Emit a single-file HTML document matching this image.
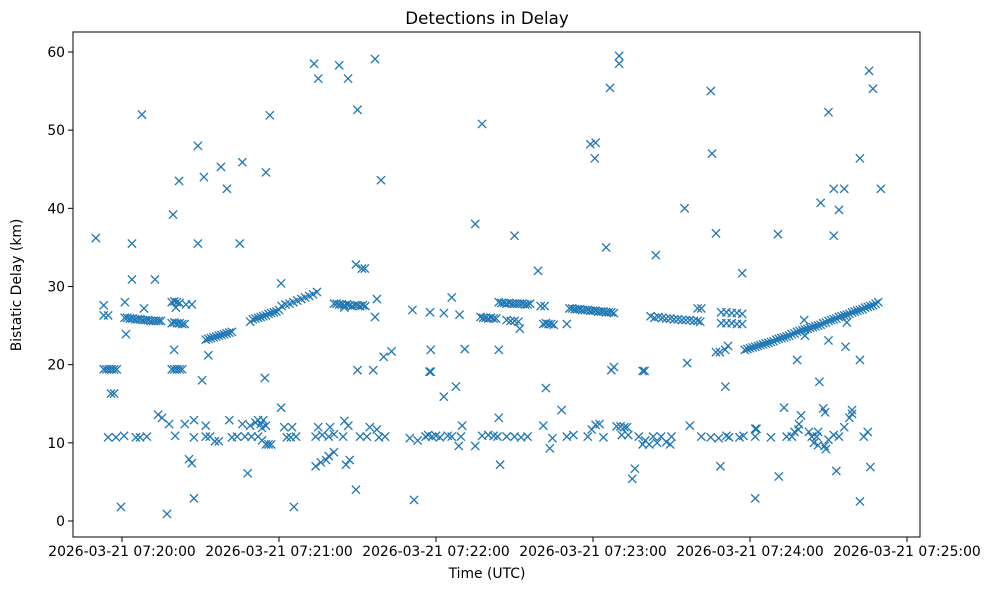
<!DOCTYPE html>
<html><head><meta charset="utf-8"><style>
body{margin:0;background:#fff;}
svg{display:block;font-family:"DejaVu Sans","Liberation Sans",sans-serif;}
</style></head><body>
<svg id="chart" width="988" height="590">
<rect x="0" y="0" width="988" height="590" fill="#fff"/>
<text x="487" y="24" text-anchor="middle" font-size="16.7">Detections in Delay</text>
<text x="487" y="578" text-anchor="middle" font-size="13.9">Time (UTC)</text>
<text transform="translate(21,285) rotate(-90)" text-anchor="middle" font-size="13.9">Bistatic Delay (km)</text>
<g id="marks"></g>
<g id="axes"></g>
</svg>
<script>
const xTickSeconds=[0,60,120,180,240,300];
const xTickLabels=["2026-03-21 07:20:00","2026-03-21 07:21:00","2026-03-21 07:22:00","2026-03-21 07:23:00","2026-03-21 07:24:00","2026-03-21 07:25:00"];
const yTicks=[0,10,20,30,40,50,60];
// seconds after 07:20:00 UTC, bistatic delay km
const detections=[
[-10,36.2],[-7,27.6],[-7,26.3],[-5.3,26.3],[-7,19.4],[-6,19.4],[-5,19.4],[-4,19.4],[-3,19.4],[-2,19.4],
[-4.2,16.3],[-3,16.3],[-5.3,10.7],[-2.3,10.7],[0.8,10.9],[-0.4,1.8],[1.1,28],[1.5,23.9],[3.8,35.5],[3.8,30.9],[7.6,52],
[1,26.0],[2,26.0],[3,25.9],[4,25.9],[5,25.8],[6,25.8],[7,25.8],[8,25.7],[9,25.7],[10,25.7],[11,25.6],[12,25.6],[13,25.6],[14,25.6],
[8.4,27.2],[5.3,10.7],[6.9,10.7],[9.5,10.8],[12.6,30.9],[14.9,25.6],[13.8,13.6],[15.3,13.2],[17.2,0.9],[18,12.4],[19.5,39.2],
[19,28],[20,28.1],[21,28],[22,27.9],[20.6,27.3],[19.9,21.9],[19,19.4],[20,19.4],[21,19.4],[22,19.4],[23,19.4],
[19,25.3],[20,25.4],[21,25.3],[22,25.3],[23,25.2],[24,25.2],
[21.8,43.5],[20.3,10.9],[24,12.4],[25.6,7.9],[26.7,7.4],[27.5,2.9],[24.5,27.7],[26.7,27.7],[27.5,12.9],[27.5,10.7],
[29,48],[29,35.5],[30.6,18],[31.3,44],[32,12.2],[32,10.8],[33.6,10.8],[33,21.2],
[32,23.2],[33,23.3],[34,23.4],[35,23.5],[36,23.6],[37,23.7],[38,23.8],[39,23.9],[40,24],[41,24.1],[42,24.2],
[35.5,10.2],[37,10.2],[37.8,45.3],[40.1,42.5],[41,12.9],[42,10.7],[44,10.8],[45,35.5],[46,45.9],[46,12.4],[48,6.1],[47,10.8],[49,25.5],[49,12.2],[49.5,10.8],
[50,25.8],[51,25.9],[52,26],[53,26.1],[54,26.2],[55,26.3],[56,26.5],[57,26.6],[58,26.7],[59,26.8],[60,27],
[51,12.6],[52,12.9],[53,12.4],[54,12.9],[55,12.2],[53.5,11.9],[54.6,18.3],[55,44.6],[52,10.8],[53.5,10.3],[55,9.8],[56,9.8],[56.5,51.9],[57,9.8],
[60.8,30.4],[60.8,14.5],[62,12],[65,12],[63,10.7],[64.5,10.7],[65.7,1.8],[66.5,10.8],
[61,27.5],[62.5,27.7],[64,27.8],[65.5,28],[67,28.2],[68.5,28.4],[70,28.6],[71.5,28.8],[73,29],[74.5,29.3],
[73.4,58.5],[75,56.6],[74,7],[76,7.5],[78,7.8],[79,8.3],[81,8.8],[74,10.8],[76.5,11],[79,10.8],[81,11.1],[75,12],[79.5,12],
[83,58.3],[86.4,56.6],
[81,27.8],[82,27.8],[83,27.7],[84,27.7],[85,27.6],[86,27.7],[87,27.6],[88,27.5],[89,27.6],[90,27.6],[91,27.5],[92,27.6],[93,27.5],[85,27.3],
[84.5,10.8],[85.6,7.2],[87,7.8],[85,12.8],[86.5,12.2],[90,52.6],[89.4,4],[89.4,32.8],[91.7,32.3],[92.8,32.3],[90,19.3],[91,10.8],[93.6,10.8],[94.7,12],
[96.7,59.1],[96.7,26.1],[97.4,28.4],[96,19.3],[97.4,11.7],[98.2,10.7],[99,43.6],[100,21],[103,21.7],[100.5,10.8],
[110,10.6],[111.6,2.7],[111,27],[113,10.3],[117.7,26.7],[117.5,19.1],[118,19.1],[118,21.9],[116,10.8],[117,11],[118.5,10.8],[120,10.9],[121.5,10.7],
[123,26.6],[123,15.9],[124.5,10.9],[126,10.8],[126,28.6],[127.6,17.2],[128.7,9.6],[129.5,10.8],[129,26.4],[130,12.2],[131,22],[135,9.6],[135,38],[137.6,50.8],
[137,26.1],[138,26],[139,26],[140,25.9],[141,26],[142,25.9],[143,25.9],
[137.6,10.9],[140,11],[142,10.9],[143.5,10.8],[144,13.2],[144,21.9],[144.5,7.2],
[144,28],[145,27.9],[146,27.9],[147,27.8],[148,27.9],[149,27.8],[150,27.8],[151,27.8],[152,27.8],[153,27.8],[154,27.7],[155,27.7],[156,27.8],
[147,25.7],[148.5,25.6],[150,25.6],[151.5,25.5],[150,36.5],[152,24.6],[147,10.8],[150,10.8],[152.5,10.7],[155,10.8],
[159,32],[160,27.5],[161.5,27.5],[161,25.2],[162,25.3],[163,25.2],[164,25.2],[165,25.1],[161,12.2],[162,17],[163.5,9.3],[164.5,10.6],[168,14.2],[170,10.8],[172.5,11],[170,25.2],
[171,27.2],[172,27.2],[173,27.1],[174,27.1],[175,27.1],[176,27],[177,27],[178,27],[179,26.9],[180,26.9],[181,26.9],[182,26.8],[183,26.8],[184,26.8],[185,26.7],[186,26.7],[187,26.7],[188,26.6],
[178,10.8],[179.5,11.7],[181,12.3],[182.5,12.4],[184,10.7],[179,48.2],[181,48.4],[180.7,46.4],[185,35],[186.5,55.4],[187,19.3],[188,19.7],[190,59.5],[190,58.5],
[189,12.1],[190.5,12.1],[192,12],[193,12],[191,11],[193.5,11],[195,5.4],[196,6.7],[199,19.2],[199.7,19.2],
[202,26.2],[203.5,26],[205,26.1],[206.5,26],[208,25.9],[209.5,25.9],[211,25.8],[212.5,25.8],[214,25.7],[215.5,25.7],[217,25.7],[218.5,25.6],[220,25.6],[221,25.5],
[197.5,10.8],[199,9.8],[200,10.3],[201.5,9.8],[203,10.8],[204.5,10],[206,10.8],[208,10.1],[209.5,9.8],[210,10.8],[204,34],[215,40],[217,12.2],[216,20.2],[220,27.2],[221.4,27.2],[221.4,10.8],
[225,55],[225.5,47],[227,36.8],[227,21.6],[228.5,21.6],[230.5,21.9],[231.6,22.4],
[229,26.7],[231,26.7],[233,26.6],[235,26.6],[237,26.5],[229,25.3],[231,25.3],[233,25.3],[235,25.2],[237,25.2],[230.6,17.2],[228.7,7],
[225,10.7],[228,10.6],[231,10.9],[232,10.7],[236,10.7],[237,31.7],
[238,21.9],[239,22.0],[240,22.1],[241,22.2],[242,22.3],[243,22.4],[244,22.5],[245,22.6],[246,22.7],[247,22.8],[248,22.9],[249,23.0],[250,23.2],[251,23.3],[252,23.4],[253,23.5],[254,23.6],[255,23.7],[256,23.9],[257,24.0],[258,24.2],[259,24.3],[260,24.4],[261,24.5],[262,24.6],[263,24.7],[264,24.8],[265,24.9],[266,25.0],[267,25.1],[268,25.3],[269,25.4],[270,25.6],[271,25.7],[272,25.8],[273,25.9],[274,26.1],[275,26.2],[276,26.3],[277,26.4],[278,26.5],[279,26.7],[280,26.8],[281,26.9],[282,27.0],[283,27.1],[284,27.3],[285,27.4],[286,27.5],[287,27.6],[288,27.8],[289,28.0],
[237.5,10.9],[242,11.8],[242.5,11.8],[242,10.8],[242,2.9],[248,10.7],[250.7,36.7],[251,5.7],[253,14.5],[254,10.8],[256,10.8],[257,11.4],[258,20.6],[258.7,12.4],[259.5,13.5],[258.5,11.7],[260.7,25.7],[261,23.7],[262.5,11.4],[263.6,10.8],[264.4,10],[265.5,10.8],[266,11.4],[266.5,17.8],[267,40.7],[268,14.4],[268.7,13.9],[268.5,9.6],[269,9.2],[270,52.3],[270,23.1],[272,42.5],[272,36.5],[273,6.4],[274,10.8],[274,39.8],[276,42.5],[276,12],[278,13.2],[277,25.4],[276.5,22.3],[279,14.2],[279,13.7],[282,20.6],[282,46.4],[282,2.5],[283.5,10.8],[285,11.4],[285.5,57.6],[287,55.3],[286,6.9],[290,42.5],[266,9.7],[270,10.4],[272,11]
];
const NS="http://www.w3.org/2000/svg";
const L=73,R=920,T=32,B=537;
function xs(t){return 122+t*(157/60);}
function ys(d){return 521-d*(469/60);}
const marks=document.getElementById('marks');
detections.forEach(function(p,i){
  const x=xs(p[0]),y=ys(p[1]),s=4.1;
  const el=document.createElementNS(NS,'path');
  el.setAttribute('d','M'+(x-s)+' '+(y-s)+'L'+(x+s)+' '+(y+s)+'M'+(x-s)+' '+(y+s)+'L'+(x+s)+' '+(y-s));
  el.setAttribute('stroke','#1f77b4');
  el.setAttribute('stroke-width','1.3');
  el.setAttribute('fill','none');
  
  
  marks.appendChild(el);
});
const axes=document.getElementById('axes');
axes.innerHTML='<rect x="'+L+'" y="'+T+'" width="'+(R-L)+'" height="'+(B-T)+'" fill="none" stroke="#000" stroke-width="1"/>';
xTickSeconds.forEach(function(t,i){
  const x=xs(t);
  const ln=document.createElementNS(NS,'line');
  ln.setAttribute('x1',x);ln.setAttribute('x2',x);ln.setAttribute('y1',B);ln.setAttribute('y2',B+5);ln.setAttribute('stroke','#000');
  
  
  axes.appendChild(ln);
  const tx=document.createElementNS(NS,'text');
  tx.setAttribute('x',x);tx.setAttribute('y',B+19);tx.setAttribute('text-anchor','middle');tx.setAttribute('font-size','13.9');
  tx.textContent=xTickLabels[i];
  
  
  axes.appendChild(tx);
});
yTicks.forEach(function(v){
  const y=ys(v);
  const ln=document.createElementNS(NS,'line');
  ln.setAttribute('x1',L-5);ln.setAttribute('x2',L);ln.setAttribute('y1',y);ln.setAttribute('y2',y);ln.setAttribute('stroke','#000');
  
  
  axes.appendChild(ln);
  const tx=document.createElementNS(NS,'text');
  tx.setAttribute('x',L-8);tx.setAttribute('y',y+5);tx.setAttribute('text-anchor','end');tx.setAttribute('font-size','13.9');
  tx.textContent=String(v);
  
  
  axes.appendChild(tx);
});
</script>
</body></html>
